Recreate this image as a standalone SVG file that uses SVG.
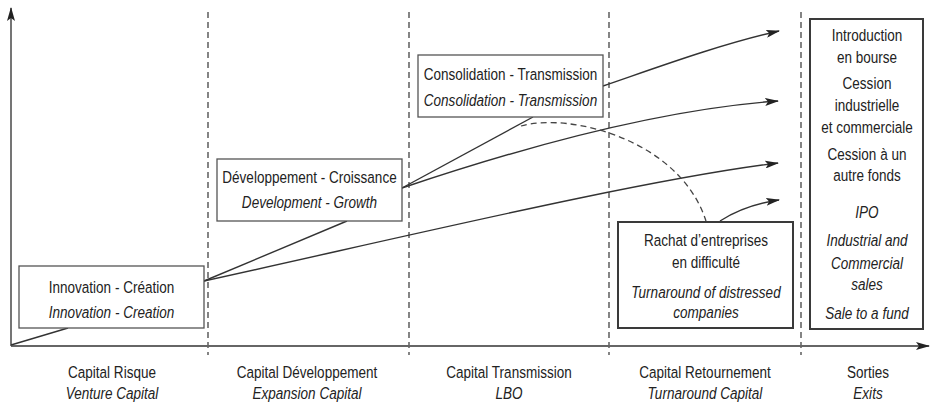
<svg xmlns="http://www.w3.org/2000/svg" width="930" height="403" viewBox="0 0 930 403">
<style>
text{font-family:"Liberation Sans",Arial,sans-serif;font-size:16.5px;fill:#222;text-anchor:middle}
.it{font-style:italic}
.box{fill:#fff;stroke:#555;stroke-width:1.3}
.tbox{fill:#fff;stroke:#3a3a3a;stroke-width:2}
.ln{fill:none;stroke:#333;stroke-width:1.4}
.dash{fill:none;stroke:#444;stroke-width:1.3;stroke-dasharray:6 4}
.axis{fill:none;stroke:#666;stroke-width:1.8}
</style>
<defs>
<marker id="ah" viewBox="0 0 14 8" refX="13" refY="4" markerWidth="14" markerHeight="8" markerUnits="userSpaceOnUse" orient="auto">
<path d="M0,0 L14,4 L0,8 L3,4 z" fill="#222"/>
</marker>
</defs>
<rect width="930" height="403" fill="#fff"/>
<g id="grid">
<line class="dash" x1="208" y1="12" x2="208" y2="355"/>
<line class="dash" x1="409" y1="12" x2="409" y2="355"/>
<line class="dash" x1="609" y1="12" x2="609" y2="355"/>
<line class="dash" x1="801" y1="12" x2="801" y2="355"/>
</g>
<g id="axes">
<line class="axis" x1="11" y1="346" x2="11" y2="8" marker-end="url(#ah)"/>
<line class="axis" x1="11" y1="346" x2="929" y2="346" marker-end="url(#ah)"/>
</g>
<g id="connectors">
<path class="ln" d="M11,345 L68,328"/>
<path class="ln" d="M204,281 L347,221"/>
<path class="ln" d="M204,281 C400,238 640,180 778,163" marker-end="url(#ah)"/>
<path class="ln" d="M402,188 L533,117"/>
<path class="ln" d="M402,188 C500,155 650,110 778,101" marker-end="url(#ah)"/>
<path class="ln" d="M603,86 C650,70 720,44 779,31" marker-end="url(#ah)"/>
<path class="dash" d="M521,126 C570,112 680,140 706,221"/>
<path class="ln" d="M720,221 Q745,205 779,200" marker-end="url(#ah)"/>
</g>
<g id="innovation">
<rect class="box" x="19" y="266" width="185" height="62"/>
<g transform="scale(0.82 1)">
<text x="135.98" y="293">Innovation - Création</text>
<text class="it" x="135.98" y="318">Innovation - Creation</text>
</g>
</g>
<g id="developpement">
<rect class="box" x="217" y="159" width="185" height="62"/>
<g transform="scale(0.82 1)">
<text x="377.44" y="183">Développement - Croissance</text>
<text class="it" x="377.44" y="208">Development - Growth</text>
</g>
</g>
<g id="consolidation">
<rect class="box" x="418" y="55" width="185" height="62"/>
<g transform="scale(0.82 1)">
<text x="622.56" y="80">Consolidation - Transmission</text>
<text class="it" x="622.56" y="106">Consolidation - Transmission</text>
</g>
</g>
<g id="rachat">
<rect class="tbox" x="618" y="222" width="175" height="106"/>
<g transform="scale(0.82 1)">
<text x="860.98" y="246">Rachat d’entreprises</text>
<text x="860.98" y="268">en difficulté</text>
<text class="it" x="860.98" y="298">Turnaround of distressed</text>
<text class="it" x="860.98" y="318">companies</text>
</g>
</g>
<g id="sorties">
<rect class="tbox" x="810" y="19" width="113" height="310"/>
<g transform="scale(0.82 1)">
<text x="1057.32" y="41">Introduction</text>
<text x="1057.32" y="63">en bourse</text>
<text x="1057.32" y="89">Cession</text>
<text x="1057.32" y="111">industrielle</text>
<text x="1057.32" y="133">et commerciale</text>
<text x="1057.32" y="160">Cession à un</text>
<text x="1057.32" y="181">autre fonds</text>
<text class="it" x="1057.32" y="218">IPO</text>
<text class="it" x="1057.32" y="246">Industrial and</text>
<text class="it" x="1057.32" y="269">Commercial</text>
<text class="it" x="1057.32" y="290">sales</text>
<text class="it" x="1057.32" y="319">Sale to a fund</text>
</g>
</g>
<g id="labels" transform="scale(0.82 1)">
<text x="136.59" y="378">Capital Risque</text>
<text class="it" x="136.59" y="399">Venture Capital</text>
<text x="374.39" y="378">Capital Développement</text>
<text class="it" x="374.39" y="399">Expansion Capital</text>
<text x="620.73" y="378">Capital Transmission</text>
<text class="it" x="620.73" y="399">LBO</text>
<text x="859.76" y="378">Capital Retournement</text>
<text class="it" x="859.76" y="399">Turnaround Capital</text>
<text x="1058.54" y="378">Sorties</text>
<text class="it" x="1058.54" y="399">Exits</text>
</g>
</svg>
